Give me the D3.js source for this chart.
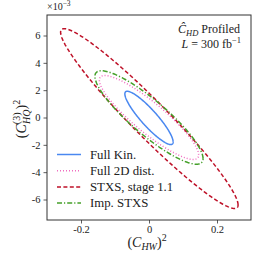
<!DOCTYPE html>
<html lang="en">
<head>
  <meta charset="UTF-8">
  <title>Profiled ellipses</title>
  <script src="https://d3js.org/d3.v7.min.js"></script>
  <style>
    body { margin: 0; background: white; }
    svg text { font-family: "Liberation Serif", "DejaVu Serif", serif; fill: #222; }
  </style>
</head>
<body>
  <svg width="262" height="262"></svg>
  <script>
    // Ellipse contours (x in units of 1, y in units of 1e-3)
    const names  = ["Full Kin.", "Full 2D dist.", "STXS, stage 1.1", "Imp. STXS"];
    const colors = ["#4a88f0", "#f06ec0", "#be1128", "#45a02a"];
    const dashes = ["none", "1,2", "4,2.4", "5,2,1.2,2"];
    const cx  = [0.0, 0.0, 0.001, 0.0];      // centre x
    const cy  = [-0.03, 0.0, -0.08, 0.0];    // centre y
    const ax  = [0.071, 0.146, 0.261, 0.159];  // half extent in x
    const ay  = [1.95, 3.07, 6.58, 3.42];    // half extent in y
    const rho = [-0.90, -0.89, -0.96, -0.88]; // correlation

    const xTicks = [-0.2, 0, 0.2];
    const yTicks = [-6, -4, -2, 0, 2, 4, 6];

    const svg = d3.select("svg"),
          width = 262, height = 262,
          margin = { top: 15, right: 11, bottom: 42, left: 47 };

    const x = d3.scaleLinear().domain([-0.3, 0.3]).range([margin.left, width - margin.right]);
    const y = d3.scaleLinear().domain([-7.5, 7.5]).range([height - margin.bottom, margin.top]);

    // ellipse path from its extents and correlation
    const steps = d3.range(0, 361, 2).map(d => d * Math.PI / 180);
    const line = d3.line().x(d => x(d[0])).y(d => y(d[1]));
    names.forEach((n, i) => {
      const phi = Math.acos(rho[i]);
      const pts = steps.map(t => [cx[i] + ax[i] * Math.cos(t), cy[i] + ay[i] * Math.cos(t - phi)]);
      svg.append("path")
         .attr("d", line(pts))
         .attr("fill", "none")
         .attr("stroke", colors[i])
         .attr("stroke-width", 1.5)
         .attr("stroke-dasharray", dashes[i]);
    });

    // axes
    const xAxis = svg.append("g")
       .attr("transform", `translate(0,${height - margin.bottom})`)
       .call(d3.axisBottom(x).tickValues(xTicks).tickSize(3.5).tickPadding(2)
             .tickFormat(d => d === 0 ? "0" : String(d)));
    const yAxis = svg.append("g")
       .attr("transform", `translate(${margin.left},0)`)
       .call(d3.axisLeft(y).tickValues(yTicks).tickSize(3.5).tickPadding(3)
             .tickFormat(d => String(d)));
    [xAxis, yAxis].forEach(g => {
      g.select(".domain").remove();
      g.selectAll("text").style("font-size", "10.5px").attr("fill", "#333");
      g.selectAll("line").attr("stroke", "#333").attr("stroke-width", 0.8);
    });

    // frame
    svg.append("rect")
       .attr("x", margin.left).attr("y", margin.top)
       .attr("width", width - margin.left - margin.right)
       .attr("height", height - margin.top - margin.bottom)
       .attr("fill", "none").attr("stroke", "#333").attr("stroke-width", 1);

    // offset text
    const off = svg.append("text").attr("x", margin.left).attr("y", 10).style("font-size", "10px");
    off.append("tspan").text("×10");
    off.append("tspan").attr("dy", -4).style("font-size", "7.5px").text("−3");

    // x label
    const xl = svg.append("text").attr("x", 147).attr("y", 247)
       .attr("text-anchor", "middle").style("font-size", "14px");
    xl.append("tspan").text("(");
    xl.append("tspan").style("font-style", "italic").text("C");
    xl.append("tspan").attr("dy", 3).style("font-size", "10px").style("font-style", "italic").text("HW");
    xl.append("tspan").attr("dy", -3).text(")");
    xl.append("tspan").attr("dy", -6).style("font-size", "10px").text("2");

    // y label
    const yl = svg.append("text").attr("transform", "translate(26,119) rotate(-90)")
       .attr("text-anchor", "middle").style("font-size", "14px");
    yl.append("tspan").text("(");
    yl.append("tspan").style("font-style", "italic").text("C");
    yl.append("tspan").attr("dy", -6).style("font-size", "10px").text("(3)");
    yl.append("tspan").attr("dx", -11.5).attr("dy", 10).style("font-size", "10px").style("font-style", "italic").text("HQ");
    yl.append("tspan").attr("dy", -4).text(")");
    yl.append("tspan").attr("dy", -6).style("font-size", "10px").text("2");

    // annotation
    const a1 = svg.append("text").attr("x", 240).attr("y", 33)
       .attr("text-anchor", "end").style("font-size", "12px");
    a1.append("tspan").style("font-style", "italic").text("Ĉ");
    a1.append("tspan").attr("dy", 2.5).style("font-size", "8.5px").style("font-style", "italic").text("HD");
    a1.append("tspan").attr("dy", -2.5).text(" Profiled");
    const a2 = svg.append("text").attr("x", 241).attr("y", 48)
       .attr("text-anchor", "end").style("font-size", "12px");
    a2.append("tspan").style("font-style", "italic").text("L");
    a2.append("tspan").text(" = 300 fb");
    a2.append("tspan").attr("dy", -5).style("font-size", "8.5px").text("−1");

    // legend
    const leg = svg.append("g");
    names.forEach((n, i) => {
      const yy = 154.5 + i * 16.2;
      leg.append("line")
         .attr("x1", 57).attr("x2", 81).attr("y1", yy).attr("y2", yy)
         .attr("stroke", colors[i]).attr("stroke-width", 1.5)
         .attr("stroke-dasharray", dashes[i]);
      leg.append("text").attr("x", 90).attr("y", yy + 4)
         .style("font-size", "12.8px").text(n);
    });
  </script>
</body>
</html>
